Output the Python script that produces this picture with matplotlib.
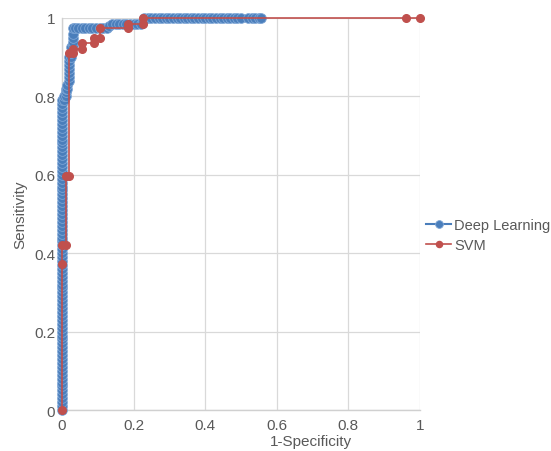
import numpy as np
from matplotlib import pyplot as plt

plt.rcParams['font.family'] = ['Liberation Sans', 'DejaVu Sans']

# Deep Learning ROC points (1-specificity, sensitivity)
dl_x = ([0.0] * 80
        + [0.005, 0.005, 0.01, 0.01, 0.01, 0.015, 0.015]
        + [0.02] * 7
        + [0.025, 0.025, 0.025]
        + [0.03] * 5
        + [0.035, 0.045, 0.055, 0.065, 0.075, 0.085, 0.095, 0.105, 0.115, 0.125, 0.13]
        + [0.14, 0.15, 0.16, 0.17, 0.18, 0.19, 0.20, 0.21, 0.22, 0.225]
        + [0.23, 0.24, 0.25, 0.26, 0.27, 0.28, 0.29, 0.30, 0.31, 0.32, 0.33, 0.34,
           0.35, 0.36, 0.37, 0.38, 0.39, 0.40, 0.41, 0.42, 0.43, 0.44, 0.45, 0.46,
           0.47, 0.48, 0.49, 0.50, 0.52, 0.53, 0.54, 0.55, 0.555])
dl_y = ([0.00, 0.01, 0.02, 0.03, 0.04, 0.05, 0.06, 0.07, 0.08, 0.09,
         0.10, 0.11, 0.12, 0.13, 0.14, 0.15, 0.16, 0.17, 0.18, 0.19,
         0.20, 0.21, 0.22, 0.23, 0.24, 0.25, 0.26, 0.27, 0.28, 0.29,
         0.30, 0.31, 0.32, 0.33, 0.34, 0.35, 0.36, 0.37, 0.38, 0.39,
         0.40, 0.41, 0.42, 0.43, 0.44, 0.45, 0.46, 0.47, 0.48, 0.49,
         0.50, 0.51, 0.52, 0.53, 0.54, 0.55, 0.56, 0.57, 0.58, 0.59,
         0.60, 0.61, 0.62, 0.63, 0.64, 0.65, 0.66, 0.67, 0.68, 0.69,
         0.70, 0.71, 0.72, 0.73, 0.74, 0.75, 0.76, 0.77, 0.78, 0.79]
        + [0.79, 0.80, 0.80, 0.81, 0.82, 0.82, 0.83]
        + [0.84, 0.85, 0.86, 0.87, 0.88, 0.89, 0.90]
        + [0.90, 0.91, 0.925]
        + [0.93, 0.94, 0.95, 0.96, 0.974]
        + [0.974] * 10 + [0.98]
        + [0.985] * 9 + [0.993]
        + [1.0] * 33)

# SVM ROC points
svm_x = [0, 0, 0, 0.01, 0.01, 0.02, 0.02, 0.03, 0.03, 0.055, 0.055, 0.09, 0.09,
         0.105, 0.105, 0.185, 0.185, 0.225, 0.225, 0.96, 1.0]
svm_y = [0, 0.372, 0.42, 0.42, 0.598, 0.598, 0.91, 0.91, 0.92, 0.92, 0.935, 0.935,
         0.948, 0.948, 0.974, 0.974, 0.984, 0.984, 1.0, 1.0, 1.0]

blue = '#4a7ebb'
red = '#c0504d'
grey = '#595959'

fig = plt.figure(figsize=(5.51, 4.52), dpi=100)
ax = fig.add_axes([0.1125, 0.0907, 0.6497, 0.8673])

ax.plot(dl_x, dl_y, '-', color=blue, marker='o', markersize=7,
        markerfacecolor=blue, markeredgecolor='#7ea6d6', markeredgewidth=0.6,
        linewidth=1.5, label='Deep Learning', clip_on=False, zorder=3)
ax.plot(svm_x, svm_y, '-', color=red, marker='o', markersize=5.5,
        markerfacecolor=red, markeredgecolor=red, linewidth=1.2,
        label='SVM', clip_on=False, zorder=4)

ax.set_xlim(0, 1)
ax.set_ylim(0, 1)
ticks = [0, 0.2, 0.4, 0.6, 0.8, 1]
labels = ['0', '0.2', '0.4', '0.6', '0.8', '1']
ax.set_xticks(ticks)
ax.set_xticklabels(labels)
ax.set_yticks(ticks)
ax.set_yticklabels(labels)
ax.tick_params(length=0, labelsize=11, colors=grey)
ax.tick_params(axis='x', pad=6)
ax.tick_params(axis='y', pad=5)
ax.grid(True, color='#d9d9d9', linewidth=0.9)
ax.set_axisbelow(True)
for s in ['top', 'right']:
    ax.spines[s].set_visible(False)
for s in ['left', 'bottom']:
    ax.spines[s].set_color('#d0d0d0')
    ax.spines[s].set_linewidth(1.0)

ax.set_xlabel('1-Specificity', fontsize=11, color=grey)
ax.xaxis.set_label_coords(0.695, -0.06)
ax.set_ylabel('Sensitivity', fontsize=11, color=grey)
ax.yaxis.set_label_coords(-0.098, 0.5)

leg = ax.legend(loc='center left', bbox_to_anchor=(1.018, 0.446), frameon=False,
                fontsize=10.5, handlelength=1.7, handletextpad=0.2, markerscale=0.8,
                borderaxespad=0.0, borderpad=0.0, labelspacing=0.4)
for t in leg.get_texts():
    t.set_color(grey)

fig.savefig('out.png', dpi=100)
